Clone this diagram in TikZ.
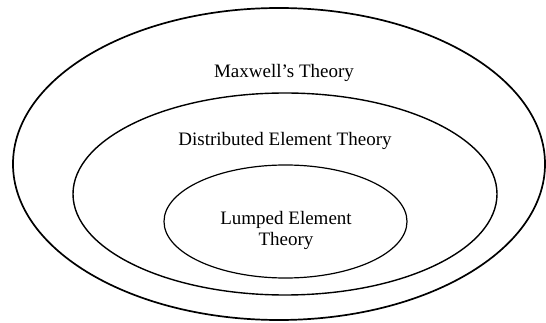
\documentclass[tikz,border=0pt]{standalone}
\usepackage{fontspec}
\setmainfont{Liberation Serif}
\begin{document}
\begin{tikzpicture}[x=1pt,y=1pt,
  ring/.style={draw=black},
  lbl/.style={inner sep=0pt,font=\fontsize{19}{21}\selectfont,align=center}]
\useasboundingbox (0,0) rectangle (546,-323);
\draw[ring,line width=1.7pt] (279,-164) ellipse [x radius=266, y radius=156];
\draw[ring,line width=1.4pt] (285,-194) ellipse [x radius=212, y radius=101];
\draw[ring,line width=1.2pt] (285.5,-221.5) ellipse [x radius=121.5, y radius=56.5];
\node[lbl,anchor=base] (maxwell) at (284,-78) {Maxwell’s Theory};
\node[lbl,anchor=base] (distributed) at (285,-146) {Distributed Element Theory};
\node[lbl] (lumped) at (286,-230.5) {Lumped Element\\Theory};
\end{tikzpicture}
\end{document}
